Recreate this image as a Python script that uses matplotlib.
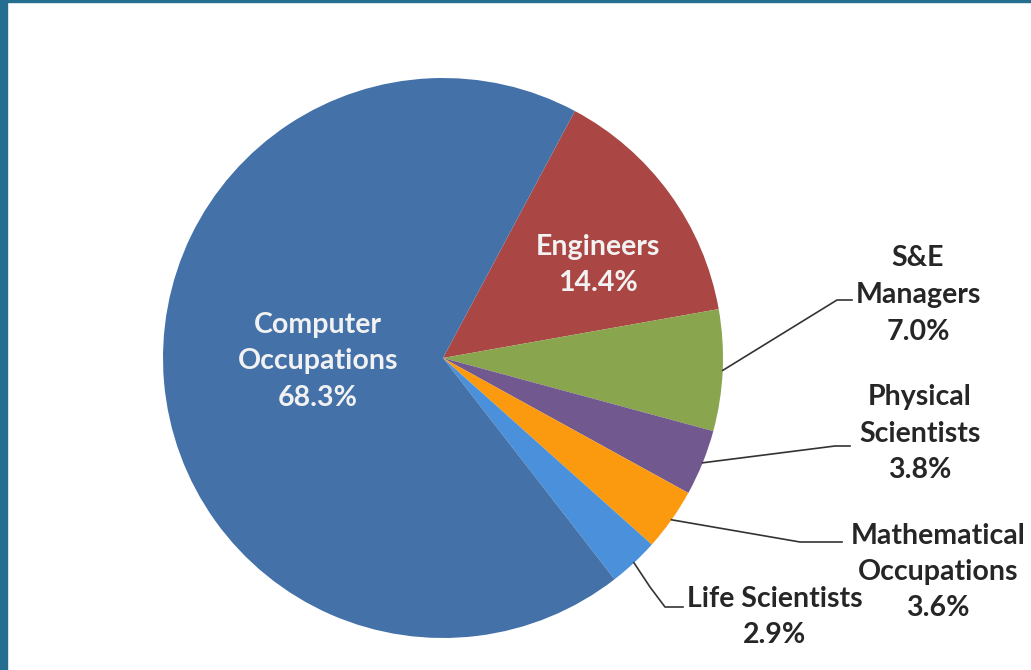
import matplotlib.pyplot as plt
import numpy as np

plt.rcParams["font.family"] = ["Lato", "DejaVu Sans"]

# data
labels = ["Engineers", "S&E\nManagers", "Physical\nScientists", "Mathematical\nOccupations",
          "Life Scientists", "Computer\nOccupations"]
shares = [14.4, 7.0, 3.8, 3.6, 2.9, 68.3]
colors = ["#AA4643", "#89A54E", "#71588F", "#FB9A0E", "#4A90DA", "#4371A8"]

W, H = 1031, 670
CX, CY, R = 443, 358, 280     # pie centre / radius in pixels


def px(x, y):
    """pixel position -> data coords (pie radius = 1)"""
    return (x - CX) / R, (CY - y) / R


fig = plt.figure(figsize=(W / 100, H / 100), dpi=100)
ax = fig.add_axes([0, 0, 1, 1])
ax.axis("off")

wedges, _ = ax.pie(shares, colors=colors, startangle=61.9, counterclock=False,
                   radius=1.0, wedgeprops=dict(linewidth=0))
ax.set_xlim(-CX / R, (W - CX) / R)
ax.set_ylim(-(H - CY) / R, CY / R)

txt = dict(fontsize=20.5, fontweight="bold", ha="center", va="center", linespacing=1.5)

# labels inside the pie
ax.text(*px(318, 361), f"{labels[5]}\n{shares[5]}%", color="#F2F2F2", **txt)
ax.text(*px(598, 265), f"{labels[0]}\n{shares[0]}%", color="#F2F2F2", **txt)

# outside labels: text position, elbow, end of line
outside = {
    1: ((918, 295), (837, 300), (852, 300)),
    2: ((920, 434), (835, 446), (850, 446)),
    3: ((938, 572), (800, 542), (842, 542)),
    4: ((775, 617), (665, 607), (683, 607)),
}
for i, (tpos, elbow, end) in outside.items():
    w = wedges[i]
    ang = np.deg2rad((w.theta1 + w.theta2) / 2)
    x0, y0 = np.cos(ang), np.sin(ang)
    pts = [(x0, y0), px(*elbow), px(*end)]
    if i == 4:
        pts = [(x0, y0), px(650, 587), px(*elbow), px(*end)]
    xs, ys = zip(*pts)
    ax.plot(xs, ys, color="#333333", lw=1.2)
    ax.text(*px(*tpos), f"{labels[i]}\n{shares[i]}%", color="#262626", **txt)

# frame on left / top
fig.patches.append(plt.Rectangle((0, 0), 7 / W, 1, transform=fig.transFigure,
                                 color="#256E8F", zorder=10))
fig.patches.append(plt.Rectangle((0, 1 - 2 / H), 1, 2 / H, transform=fig.transFigure,
                                 color="#256E8F", zorder=10))

fig.savefig("out.png", dpi=100, facecolor="white")
